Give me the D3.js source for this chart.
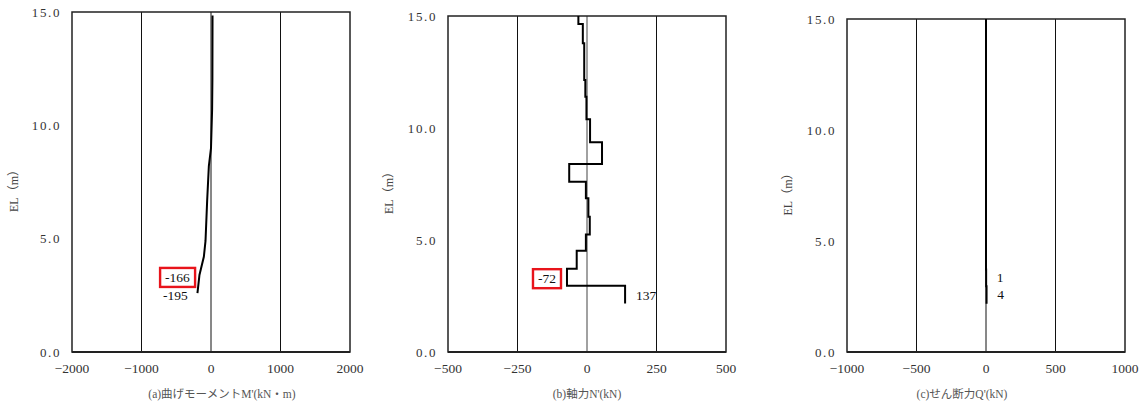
<!DOCTYPE html>
<html>
<head>
<meta charset="utf-8">
<script src="https://cdn.jsdelivr.net/npm/d3@7"></script>
<style>
  body { margin: 0; background: #fff; }
  text { font-family: "Liberation Serif", "Noto Sans CJK JP", serif; }
</style>
</head>
<body>
<svg id="chart" width="1145" height="409"></svg>
<script>
// elevation (m) and values
const elMoment = [14.85, 12.0, 10.7, 9.0, 8.2, 6.7, 4.9, 4.2, 3.4, 2.6];
const moment = [22, 20, 16, 0, -31, -55, -79, -103, -166, -195];

// step boundaries for axial / shear force
const elSteps = [15.0, 14.64, 13.78, 12.14, 11.4, 10.39, 9.36, 8.39, 7.6, 6.86, 6.04, 5.25, 4.52, 3.72, 2.96, 2.17];
const axial = [-31, -15, -10, -6, -2, 11, 54, -64, -4, 5, 10, -4, -37, -72, 137];
const shear = [0, 0, 0, 0, 0, 0, 0, 0, 0, 0, 0, 0, 0, 1, 4];

const yTicks = [0, 5, 10, 15];
const xTicksM = [-2000, -1000, 0, 1000, 2000];
const xTicksN = [-500, -250, 0, 250, 500];
const xTicksQ = [-1000, -500, 0, 500, 1000];

const titles = ["(a)曲げモーメントM'(kN・m)", "(b)軸力N'(kN)", "(c)せん断力Q'(kN)"];

const svg = d3.select("#chart");

// step data -> points
function steps(el, v) {
  let pts = [];
  v.forEach((d, i) => {
    pts.push([d, el[i]]);
    pts.push([d, el[i + 1]]);
  });
  return pts;
}

const panels = [
  {
    left: 72, right: 350, top: 12, bottom: 352, ticks: xTicksM, titleX: 222, elX: 18,
    pts: moment.map((d, i) => [d, elMoment[i]]), zeroGrey: false,
    labels: [
      { v: -166, el: 3.4, dx: -22, dy: 7, text: "-166", box: true },
      { v: -195, el: 2.6, dx: -22, dy: 7, text: "-195" }
    ]
  },
  {
    left: 448, right: 726, top: 16, bottom: 352, ticks: xTicksN, titleX: 587, elX: 393,
    pts: steps(elSteps, axial), zeroGrey: true,
    labels: [
      { v: -72, el: 3.34, dx: -20, dy: 6, text: "-72", box: true },
      { v: 137, el: 2.17, dx: 21, dy: -3, text: "137" }
    ]
  },
  {
    left: 847, right: 1125, top: 19, bottom: 352, ticks: xTicksQ, titleX: 962, elX: 792,
    pts: steps(elSteps, shear), zeroGrey: false,
    labels: [
      { v: 1, el: 3.34, dx: 14, dy: 4, text: "1" },
      { v: 4, el: 2.57, dx: 14, dy: 4, text: "4" }
    ]
  }
];

panels.forEach((p, k) => {
  const x = d3.scaleLinear().domain(d3.extent(p.ticks)).range([p.left, p.right]);
  const y = d3.scaleLinear().domain([0, 15]).range([p.bottom, p.top]);
  const g = svg.append("g");

  // vertical grid lines
  g.selectAll(".grid")
    .data(p.ticks.slice(1, -1))
    .join("line")
      .attr("x1", d => x(d)).attr("x2", d => x(d))
      .attr("y1", p.top).attr("y2", p.bottom)
      .attr("stroke", d => (d === 0 && p.zeroGrey) ? "#8a8a8a" : "#111")
      .attr("stroke-width", d => (d === 0 && p.zeroGrey) ? 1.6 : 1);

  // frame
  g.append("rect")
    .attr("x", p.left).attr("y", p.top)
    .attr("width", p.right - p.left).attr("height", p.bottom - p.top)
    .attr("fill", "none").attr("stroke", "#222").attr("stroke-width", 1.5);
  g.append("line")
    .attr("x1", p.left).attr("x2", p.right)
    .attr("y1", p.bottom).attr("y2", p.bottom)
    .attr("stroke", "#222").attr("stroke-width", 2);

  // y tick labels
  g.selectAll(".yt")
    .data(yTicks)
    .join("text")
      .attr("x", p.left - 11).attr("y", d => y(d))
      .attr("dy", "0.35em")
      .attr("text-anchor", "end")
      .attr("font-size", 13)
      .attr("letter-spacing", 1.6)
      .attr("fill", "#333")
      .text(d => d3.format(".1f")(d));

  // x tick labels
  g.selectAll(".xt")
    .data(p.ticks)
    .join("text")
      .attr("x", d => x(d)).attr("y", p.bottom + 21)
      .attr("text-anchor", "middle")
      .attr("font-size", 13.5)
      .attr("fill", "#333")
      .text(d => d3.format("d")(d));

  // axis titles
  g.append("text")
    .attr("transform", `translate(${p.elX},${(p.top + p.bottom) / 2 + 6}) rotate(-90)`)
    .attr("text-anchor", "middle")
    .attr("font-size", 12)
    .attr("fill", "#444")
    .text("EL（m）");
  g.append("text")
    .attr("x", p.titleX).attr("y", p.bottom + 46)
    .attr("text-anchor", "middle")
    .attr("font-size", 11.5)
    .attr("fill", "#555")
    .text(titles[k]);

  // data line
  const line = d3.line().x(d => x(d[0])).y(d => y(d[1]));
  g.append("path")
    .datum(p.pts)
    .attr("d", line)
    .attr("fill", "none")
    .attr("stroke", "#000")
    .attr("stroke-width", 2)
    .attr("stroke-linejoin", "miter");

  // value labels
  p.labels.forEach(l => {
    const lx = x(l.v) + l.dx, ly = y(l.el) + l.dy;
    const t = g.append("text")
      .attr("x", lx).attr("y", ly)
      .attr("text-anchor", "middle")
      .attr("font-size", 13.5)
      .attr("fill", "#111")
      .text(l.text);
    if (l.box) {
      const b = t.node().getBBox();
      g.insert("rect", "text")
        .attr("x", b.x - 5).attr("y", b.y - 2)
        .attr("width", b.width + 10).attr("height", b.height + 4)
        .attr("fill", "#fff").attr("stroke", "#e8141b").attr("stroke-width", 2.4);
    }
  });
});
</script>
</body>
</html>
